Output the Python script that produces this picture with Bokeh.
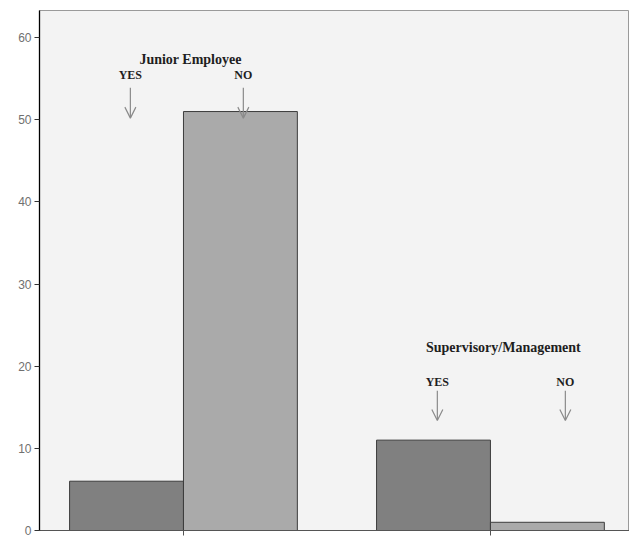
from bokeh.plotting import figure
from bokeh.models import Arrow, OpenHead, Label, FixedTicker, ColumnDataSource
from bokeh.embed import file_html
from bokeh.resources import INLINE

groups = ["Junior Employee", "Supervisory/Management"]
answers = ["YES", "NO"]
yes_counts = [6, 11]
no_counts = [51, 1]
y_ticks = [0, 10, 20, 30, 40, 50, 60]

bar_w = 0.371
gx = list(range(len(groups)))

p = figure(output_backend="svg", toolbar_location=None,
           frame_width=590, frame_height=520,
           x_range=(-0.469, 1.453), y_range=(0, 63.3),
           min_border_left=39, min_border_top=10, min_border_right=0, min_border_bottom=10)

p.background_fill_color = "#f3f3f3"
p.border_fill_color = "white"
p.outline_line_color = "#9a9a9a"
p.grid.visible = False

src_yes = ColumnDataSource(dict(x=[g - bar_w / 2 for g in gx], top=yes_counts))
src_no = ColumnDataSource(dict(x=[g + bar_w / 2 for g in gx], top=no_counts))
p.vbar(x="x", top="top", width=bar_w, bottom=0, source=src_yes,
       fill_color="#808080", line_color="#3c3c3c", line_width=1)
p.vbar(x="x", top="top", width=bar_w, bottom=0, source=src_no,
       fill_color="#aaaaaa", line_color="#3c3c3c", line_width=1)

# y axis
p.yaxis.ticker = FixedTicker(ticks=y_ticks)
p.yaxis.axis_line_color = "black"
p.yaxis.axis_line_width = 1.3
p.yaxis.major_tick_line_color = "#333333"
p.yaxis.major_tick_out = 5
p.yaxis.major_tick_in = 0
p.yaxis.minor_tick_line_color = None
p.yaxis.major_label_text_font = "Liberation Sans"
p.yaxis.major_label_text_font_size = "12px"
p.yaxis.major_label_text_color = "#707070"
p.yaxis.major_label_standoff = 3

# x axis
p.xaxis.ticker = FixedTicker(ticks=gx)
p.xaxis.major_label_overrides = {g: "" for g in gx}
p.xaxis.major_label_text_font_size = "1px"
p.xaxis.major_label_standoff = 0
p.xaxis.axis_line_color = "#555555"
p.xaxis.major_tick_line_color = "#555555"
p.xaxis.major_tick_out = 5
p.xaxis.major_tick_in = 0
p.xaxis.minor_tick_line_color = None

font = "Liberation Serif"
def lab(x, y, t, size="14px"):
    p.add_layout(Label(x=x, y=y, text=t, text_font=font, text_font_size=size,
                       text_font_style="bold", text_color="#1e1e1e",
                       text_align="center", text_baseline="middle"))

def arr(x, y0, y1):
    p.add_layout(Arrow(x_start=x, y_start=y0, x_end=x, y_end=y1,
                       line_color="#8a8a8a", line_width=1.2,
                       end=OpenHead(size=11, line_color="#8a8a8a", line_width=1.2)))

# Junior Employee annotations
lab(0.023, 57.3, groups[0])
lab(-0.173, 55.4, answers[0], "12px")
lab(0.195, 55.4, answers[1], "12px")
arr(-0.173, 53.9, 50.2)
arr(0.195, 53.9, 50.2)

# Supervisory annotations
lab(1.042, 22.3, groups[1])
lab(0.827, 18.1, answers[0], "12px")
lab(1.244, 18.1, answers[1], "12px")
arr(0.827, 17.0, 13.4)
arr(1.244, 17.0, 13.4)

open("out.html", "w").write(file_html(p, INLINE))
